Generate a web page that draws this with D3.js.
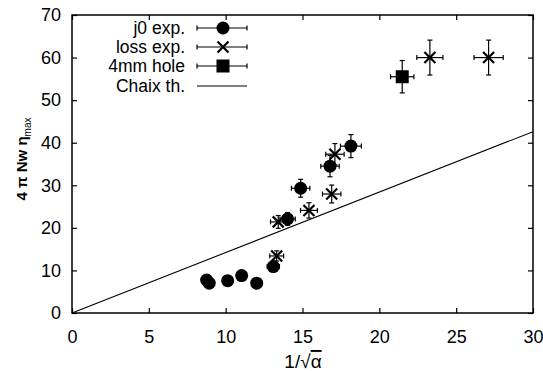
<!DOCTYPE html>
<html><head><meta charset="utf-8">
<script src="https://cdn.jsdelivr.net/npm/d3@7"></script>
<style>
body{margin:0;background:#fff;}
text{font-family:"Liberation Sans",Arial,Helvetica,sans-serif;fill:#000;}
</style></head>
<body><svg id="c" width="543" height="371"></svg>
<script>
// ---- data ----
const xTicks = [0, 5, 10, 15, 20, 25, 30];
const yTicks = [0, 10, 20, 30, 40, 50, 60, 70];

const j0X    = [8.76, 8.93, 10.13, 11.04, 12.02, 13.1, 14.03, 14.88, 16.79, 18.15];
const j0Y    = [7.75, 7.0, 7.6, 8.8, 7.0, 10.9, 22.1, 29.3, 34.5, 39.2];
const j0Xerr = [0.3, 0.3, 0.3, 0.3, 0.3, 0.4, 0.5, 0.6, 0.6, 0.68];
const j0Yerr = [0.8, 0.8, 0.8, 0.8, 0.8, 1.0, 1.5, 2.1, 2.5, 2.7];

const lossX    = [13.32, 13.42, 15.42, 16.9, 17.11, 23.29, 27.11];
const lossY    = [13.4, 21.4, 24.1, 27.95, 37.3, 60.0, 60.0];
const lossXerr = [0.45, 0.5, 0.55, 0.6, 0.6, 0.85, 0.95];
const lossYerr = [1.2, 1.5, 1.8, 2.1, 2.5, 4.1, 4.1];

const holeX = [21.49], holeY = [55.5], holeXerr = [0.76], holeYerr = [3.8];

const chaixX = [0, 30];
const chaixY = [0, 42.6];

const legendLabels = ["j0 exp.", "loss exp.", "4mm hole", "Chaix th."];

// ---- layout ----
const svg = d3.select("#c");
const m = {l:72, r:10, t:15, b:58};
const W = 543, H = 371;
const x = d3.scaleLinear().domain([0,30]).range([m.l, W-m.r]);
const y = d3.scaleLinear().domain([0,70]).range([H-m.b, m.t]);

// axes with inward ticks
const tl = 5;
svg.append("g").attr("transform",`translate(0,${y(0)})`)
  .call(d3.axisBottom(x).tickValues(xTicks).tickSize(-tl).tickPadding(tl+12).tickFormat(d3.format("d")))
  .call(g=>g.selectAll("text").attr("font-size",18))
  .call(g=>g.select(".domain").remove());
svg.append("g").attr("transform",`translate(${x(0)},0)`)
  .call(d3.axisLeft(y).tickValues(yTicks).tickSize(-tl).tickPadding(tl+6).tickFormat(d3.format("d")))
  .call(g=>g.selectAll("text").attr("font-size",18))
  .call(g=>g.select(".domain").remove());
svg.append("g").attr("transform",`translate(0,${y(70)})`)
  .call(d3.axisTop(x).tickValues(xTicks).tickSize(-tl).tickFormat(""))
  .call(g=>g.select(".domain").remove());
svg.append("g").attr("transform",`translate(${x(30)},0)`)
  .call(d3.axisRight(y).tickValues(yTicks).tickSize(-tl).tickFormat(""))
  .call(g=>g.select(".domain").remove());
svg.selectAll(".tick line").attr("stroke","#000").attr("stroke-width",1.2);

svg.append("rect").attr("x",x(0)).attr("y",y(70)).attr("width",x(30)-x(0)).attr("height",y(0)-y(70))
  .attr("fill","none").attr("stroke","#000").attr("stroke-width",1.5);

// Chaix line
svg.append("path").datum(chaixX.map((v,i)=>[v,chaixY[i]]))
  .attr("d", d3.line().x(d=>x(d[0])).y(d=>y(d[1])))
  .attr("stroke","#000").attr("stroke-width",1.1).attr("fill","none");

function errBars(X,Y,XE,YE){
  const g = svg.append("g").attr("stroke","#000").attr("stroke-width",1.2);
  const cap = 2.5;
  X.forEach((xv,i)=>{
    const cx=x(xv), cy=y(Y[i]);
    const x0=x(xv-XE[i]), x1=x(xv+XE[i]);
    const y0=y(Y[i]-YE[i]), y1=y(Y[i]+YE[i]);
    g.append("line").attr("x1",x0).attr("x2",x1).attr("y1",cy).attr("y2",cy);
    g.append("line").attr("x1",x0).attr("x2",x0).attr("y1",cy-cap).attr("y2",cy+cap);
    g.append("line").attr("x1",x1).attr("x2",x1).attr("y1",cy-cap).attr("y2",cy+cap);
    g.append("line").attr("x1",cx).attr("x2",cx).attr("y1",y0).attr("y2",y1);
    g.append("line").attr("x1",cx-cap).attr("x2",cx+cap).attr("y1",y0).attr("y2",y0);
    g.append("line").attr("x1",cx-cap).attr("x2",cx+cap).attr("y1",y1).attr("y2",y1);
  });
}
function circleMark(g,cx,cy){ g.append("circle").attr("cx",cx).attr("cy",cy).attr("r",6.5).attr("fill","#000"); }
function crossMark(g,cx,cy){ const s=5.5;
  g.append("path").attr("d",`M${cx-s},${cy-s}L${cx+s},${cy+s}M${cx-s},${cy+s}L${cx+s},${cy-s}`)
   .attr("stroke","#000").attr("stroke-width",2.2); }
function squareMark(g,cx,cy){ const s=6.5; g.append("rect").attr("x",cx-s).attr("y",cy-s).attr("width",2*s).attr("height",2*s).attr("fill","#000"); }

errBars(j0X,j0Y,j0Xerr,j0Yerr);
errBars(lossX,lossY,lossXerr,lossYerr);
errBars(holeX,holeY,holeXerr,holeYerr);
const mg = svg.append("g");
j0X.forEach((v,i)=>circleMark(mg,x(v),y(j0Y[i])));
lossX.forEach((v,i)=>crossMark(mg,x(v),y(lossY[i])));
holeX.forEach((v,i)=>squareMark(mg,x(v),y(holeY[i])));

// legend
const lg = svg.append("g");
const rows = [28, 47, 66, 86];
const lx0=197, lx1=247, lc=223;
legendLabels.forEach((t,i)=>{
  const ry = rows[i];
  lg.append("text").attr("x",185).attr("y",ry+6).attr("text-anchor","end").attr("font-size",17.5).text(t);
  lg.append("line").attr("x1",lx0).attr("x2",lx1).attr("y1",ry).attr("y2",ry).attr("stroke","#000").attr("stroke-width",1.2);
  if(i<3){
    lg.append("line").attr("x1",lx0).attr("x2",lx0).attr("y1",ry-2.5).attr("y2",ry+2.5).attr("stroke","#000").attr("stroke-width",1.2);
    lg.append("line").attr("x1",lx1).attr("x2",lx1).attr("y1",ry-2.5).attr("y2",ry+2.5).attr("stroke","#000").attr("stroke-width",1.2);
  }
  if(i===0) circleMark(lg,lc,ry);
  if(i===1) crossMark(lg,lc,ry);
  if(i===2) squareMark(lg,lc,ry);
});

// axis titles
const xt = svg.append("text").attr("x",303).attr("y",368).attr("text-anchor","middle").attr("font-size",19);
xt.append("tspan").text("1/√");
xt.append("tspan").attr("text-decoration","overline").text("α");

const yt = svg.append("text").attr("transform","translate(27,159) rotate(-90)")
  .attr("text-anchor","middle").attr("font-size",15).attr("font-weight","bold");
yt.append("tspan").text("4 π Nw η");
yt.append("tspan").attr("font-size",10).attr("dy",4).attr("font-weight","normal").text("max");
</script></body></html>
